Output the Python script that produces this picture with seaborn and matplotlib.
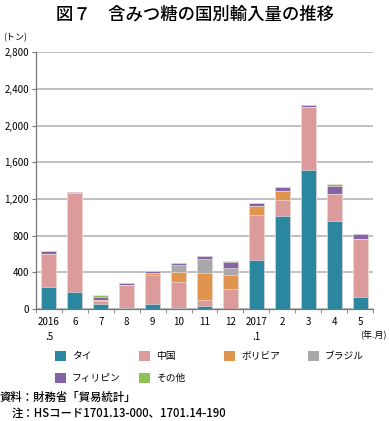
import numpy as np
import pandas as pd
import matplotlib
matplotlib.use("Agg")
import matplotlib.pyplot as plt
from matplotlib.patches import Patch
from matplotlib.ticker import FuncFormatter, MultipleLocator
import seaborn as sns

# 年.月 (2016.5 - 2017.5)
months = ["2016\n.5", "6", "7", "8", "9", "10", "11", "12", "2017\n.1", "2", "3", "4", "5"]
countries = ["タイ", "中国", "ボリビア", "ブラジル", "フィリピン", "その他"]

# 輸入量 (トン)
thai        = [240, 190, 60, 15, 55, 15, 36, 0, 538, 1015, 1515, 963, 134]
china       = [360, 1075, 25, 250, 315, 275, 62, 215, 488, 170, 690, 292, 630]
bolivia     = [0, 0, 10, 0, 25, 115, 290, 156, 100, 100, 0, 0, 0]
brazil      = [0, 0, 0, 0, 0, 80, 153, 73, 0, 0, 0, 0, 0]
philippines = [30, 10, 35, 20, 18, 22, 40, 72, 30, 50, 15, 87, 54]
other       = [0, 0, 25, 0, 0, 0, 0, 8, 0, 0, 0, 20, 0]

colors = ["#2b87a0", "#dc9b9b", "#e0954f", "#a9a9a9", "#8463a8", "#8dc153"]

series = [thai, china, bolivia, brazil, philippines, other]
df = pd.DataFrame({c: s for c, s in zip(countries, series)})
df["month"] = months
cum = df[countries].cumsum(axis=1)

plt.rcParams['font.family'] = ['Noto Sans CJK JP', 'DejaVu Sans']

fig = plt.figure(figsize=(3.89, 4.21), dpi=100)
ax = fig.add_axes([0.0925, 0.266, 0.8665, 0.61])

# stacked bars: draw cumulative totals from top layer down
for i in range(len(countries) - 1, -1, -1):
    sns.barplot(x=df["month"], y=cum[countries[i]], color=colors[i], width=0.58,
                order=months, edgecolor="#f4e8e8", linewidth=0.4, saturation=1, ax=ax)

ax.set_xlim(-0.5, len(months) - 0.5)
ax.set_ylim(0, 2800)
ax.yaxis.set_major_locator(MultipleLocator(400))
ax.yaxis.set_major_formatter(FuncFormatter(lambda v, p: f"{int(v):,}"))
ax.grid(axis="y", color="#b5b5b5", linewidth=1.2)
ax.set_axisbelow(True)
for s in ["top", "right"]:
    ax.spines[s].set_visible(False)
for s in ["left", "bottom"]:
    ax.spines[s].set_color("#777777")
    ax.spines[s].set_linewidth(0.9)

ax.set_xlabel("")
ax.set_ylabel("")
ax.set_xticks(range(len(months)))
ax.set_xticklabels(months, fontsize=7, linespacing=1.6, va="top")
ax.tick_params(axis="x", length=0, pad=6)
ax.set_xticks(np.arange(-0.5, len(months), 1), minor=True)
ax.tick_params(axis="x", which="minor", length=3, color="#777777")
ax.tick_params(axis="y", labelsize=7, length=3, color="#777777", pad=2)

fig.text(0.5, 0.965, "図７　含みつ糖の国別輸入量の推移", ha="center", va="center",
         fontsize=12.5, fontweight="medium")
fig.text(0.008, 0.91, "(トン)", fontsize=6.5, va="center")
fig.text(0.995, 0.204, "(年.月)", fontsize=6.5, ha="right", va="center")

# legend: evenly spaced grid, 4 per row
leg_x = [55, 139, 224, 308, 55, 139]
leg_y = [356, 356, 356, 356, 378, 378]
for k in range(len(countries)):
    lg = fig.legend([Patch(facecolor=colors[k], edgecolor="none")], [countries[k]],
                    loc="center left", bbox_to_anchor=(leg_x[k] / 389, 1 - leg_y[k] / 421),
                    frameon=False, fontsize=7, handlelength=1.15, handleheight=1.15,
                    handletextpad=0.6, borderpad=0, borderaxespad=0)

fig.text(0.0, 0.057, "資料：財務省「貿易統計」", fontsize=8.2, va="center",
         fontweight="medium")
fig.text(0.031, 0.018, "注：HSコード1701.13-000、1701.14-190", fontsize=8.2, va="center",
         fontweight="medium")

fig.savefig("out.png", dpi=100)
